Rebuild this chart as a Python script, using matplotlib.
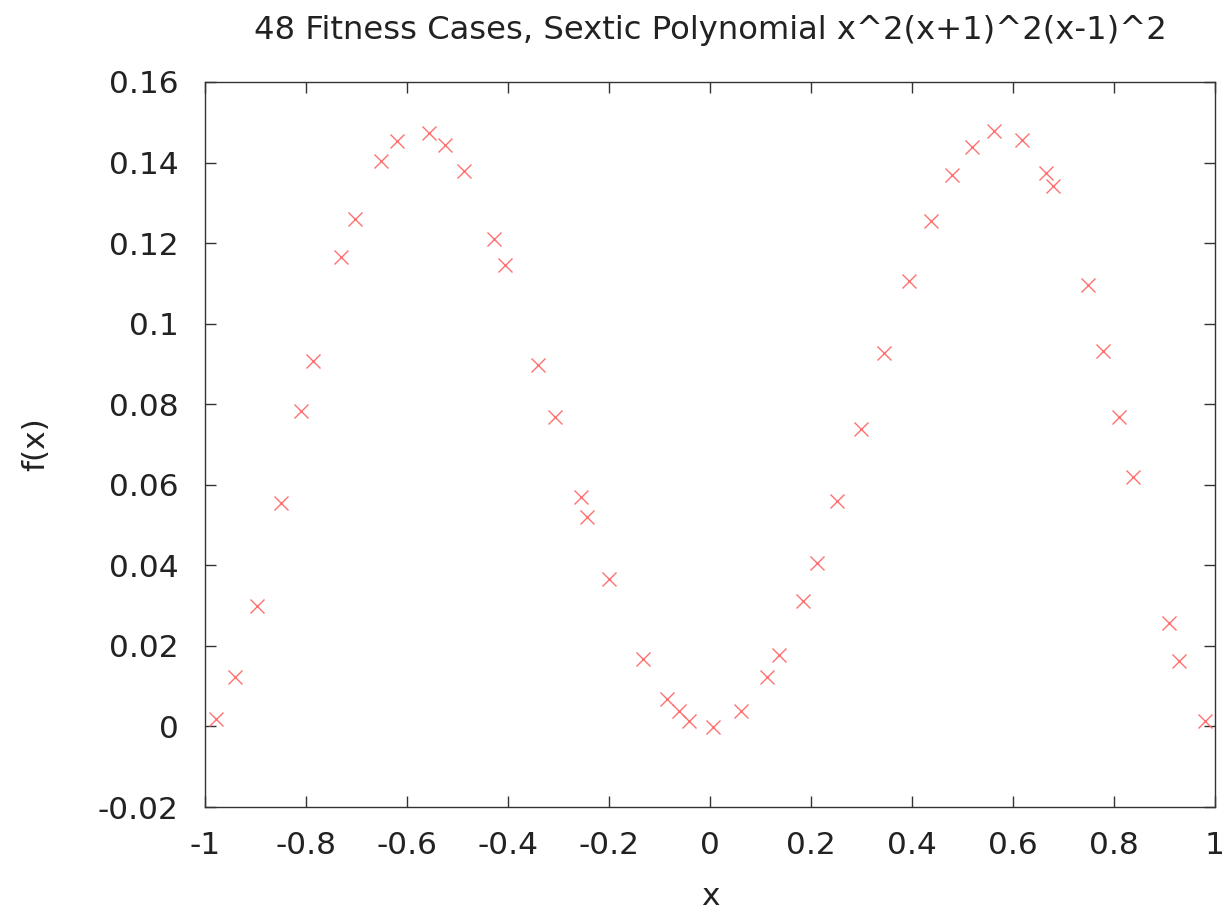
import numpy as np
import matplotlib.pyplot as plt

# 48 fitness cases
x_vals = [-0.978, -0.941, -0.897, -0.850, -0.810, -0.786, -0.731, -0.703,
          -0.651, -0.620, -0.556, -0.525, -0.487, -0.428, -0.406, -0.341,
          -0.307, -0.255, -0.244, -0.200, -0.133, -0.085, -0.061, -0.042,
          0.006, 0.061, 0.113, 0.137, 0.184, 0.212, 0.251, 0.299,
          0.345, 0.394, 0.438, 0.479, 0.519, 0.562, 0.618, 0.665,
          0.679, 0.749, 0.778, 0.810, 0.838, 0.909, 0.929, 0.980]
y_vals = [0.0018, 0.0123, 0.0298, 0.0554, 0.0783, 0.0907, 0.1165, 0.1260,
          0.1404, 0.1453, 0.1473, 0.1443, 0.1379, 0.1210, 0.1145, 0.0897,
          0.0768, 0.0570, 0.0520, 0.0366, 0.0167, 0.0068, 0.0038, 0.0013,
          -0.0001, 0.0038, 0.0123, 0.0177, 0.0311, 0.0406, 0.0560, 0.0739,
          0.0927, 0.1106, 0.1255, 0.1369, 0.1438, 0.1478, 0.1455, 0.1374,
          0.1342, 0.1096, 0.0932, 0.0768, 0.0619, 0.0257, 0.0163, 0.0013]

x_ticks = [-1, -0.8, -0.6, -0.4, -0.2, 0, 0.2, 0.4, 0.6, 0.8, 1]
x_tick_labels = ['-1', '-0.8', '-0.6', '-0.4', '-0.2', '0', '0.2', '0.4', '0.6', '0.8', '1']
y_ticks = [-0.02, 0, 0.02, 0.04, 0.06, 0.08, 0.1, 0.12, 0.14, 0.16]
y_tick_labels = ['-0.02', '0', '0.02', '0.04', '0.06', '0.08', '0.1', '0.12', '0.14', '0.16']

plt.rcParams['font.family'] = 'DejaVu Sans'

fig = plt.figure(figsize=(12.26, 9.13), dpi=100)
ax = fig.add_axes([205 / 1226, 1 - 807 / 913, 1010 / 1226, 725 / 913])

ax.plot(x_vals, y_vals, linestyle='none', marker='x', markersize=10,
        markeredgewidth=1.0, color='#ff7070')

ax.set_xlim(-1, 1)
ax.set_ylim(-0.02, 0.16)
ax.set_xticks(x_ticks)
ax.set_xticklabels(x_tick_labels)
ax.set_yticks(y_ticks)
ax.set_yticklabels(y_tick_labels)
ax.tick_params(direction='in', length=8, width=1, color='#333333',
               top=True, right=True, labelsize=22.5, labelcolor='#222222')
ax.tick_params(axis='x', pad=17)
ax.tick_params(axis='y', pad=19)

for sp in ax.spines.values():
    sp.set_color('#333333')
    sp.set_linewidth(1)

ax.set_title('48 Fitness Cases, Sextic Polynomial x^2(x+1)^2(x-1)^2',
             fontsize=23.2, color='#222222', pad=31)
ax.set_xlabel('x', fontsize=22.5, color='#222222', labelpad=16)
ax.set_ylabel('f(x)', fontsize=22.5, color='#222222', labelpad=34)

plt.savefig('out.png', dpi=100)
plt.close()
